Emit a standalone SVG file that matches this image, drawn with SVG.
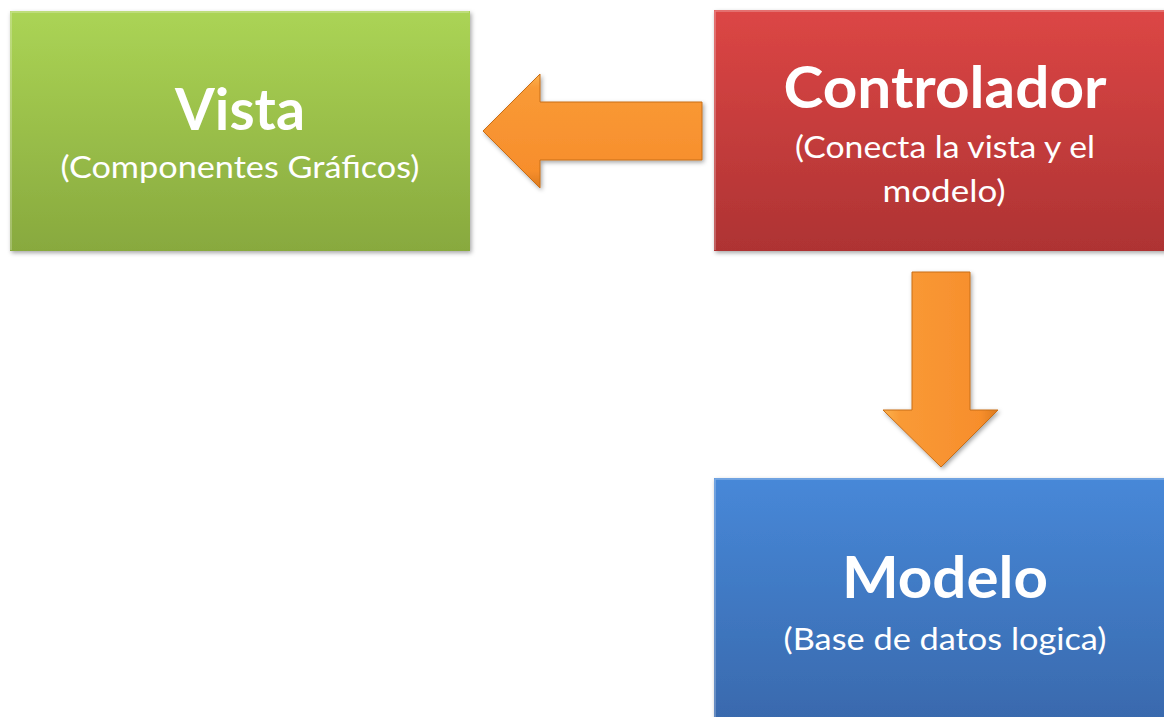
<svg xmlns="http://www.w3.org/2000/svg" width="1164" height="717" viewBox="0 0 1164 717">
  <defs>
    <linearGradient id="gGreen" x1="0" y1="0" x2="0" y2="1">
      <stop offset="0" stop-color="#ABD455"/>
      <stop offset="1" stop-color="#88A93E"/>
    </linearGradient>
    <linearGradient id="gRed" x1="0" y1="0" x2="0" y2="1">
      <stop offset="0" stop-color="#DC4645"/>
      <stop offset="1" stop-color="#AE3333"/>
    </linearGradient>
    <linearGradient id="gBlue" x1="0" y1="0" x2="0" y2="1">
      <stop offset="0" stop-color="#4788D8"/>
      <stop offset="1" stop-color="#3867AA"/>
    </linearGradient>
    <linearGradient id="gArrowH" x1="0" y1="0" x2="0" y2="1">
      <stop offset="0" stop-color="#FCB24E"/>
      <stop offset="0.12" stop-color="#F99A36"/>
      <stop offset="0.85" stop-color="#F78E2C"/>
      <stop offset="1" stop-color="#DB7A1E"/>
    </linearGradient>
    <linearGradient id="gArrowV" x1="0" y1="0" x2="1" y2="0">
      <stop offset="0" stop-color="#FCB24E"/>
      <stop offset="0.15" stop-color="#F99A36"/>
      <stop offset="0.85" stop-color="#F78E2C"/>
      <stop offset="1" stop-color="#DB7A1E"/>
    </linearGradient>
    <filter id="shadow" x="-10%" y="-10%" width="120%" height="120%">
      <feDropShadow dx="1.5" dy="2" stdDeviation="2" flood-color="#000" flood-opacity="0.35"/>
    </filter>
  </defs>
  <style>
    .box { filter: url(#shadow); }
    .title { font-family: Lato, "Liberation Sans", sans-serif; font-weight: bold; font-size: 58px; fill: #FFFFFF; text-anchor: middle; }
    .sub { font-family: Lato, "Liberation Sans", sans-serif; font-size: 30px; fill: #FFFFFF; text-anchor: middle; }
    .arrow { filter: url(#shadow); stroke: #C86E18; stroke-width: 1; stroke-linejoin: miter; }
    .hl { fill: none; stroke: #FFFFFF; stroke-opacity: 0.3; stroke-width: 1.5; }
  </style>

  <g id="vista">
    <rect class="box" x="10" y="11" width="460" height="240" fill="url(#gGreen)"/>
    <path class="hl" d="M11 250 L11 12 L469 12"/>
    <text class="title" x="240" y="130" textLength="130" lengthAdjust="spacingAndGlyphs">Vista</text>
    <text class="sub" x="240" y="178" textLength="359" lengthAdjust="spacingAndGlyphs">(Componentes Gráficos)</text>
  </g>

  <g id="controlador">
    <rect class="box" x="714" y="10" width="460" height="241" fill="url(#gRed)"/>
    <path class="hl" d="M715 250 L715 11 L1164 11"/>
    <text class="title" x="945" y="108" textLength="323" lengthAdjust="spacingAndGlyphs">Controlador</text>
    <text class="sub" x="945" y="158" textLength="300" lengthAdjust="spacingAndGlyphs">(Conecta la vista y el</text>
    <text class="sub" x="944" y="202" textLength="123" lengthAdjust="spacingAndGlyphs">modelo)</text>
  </g>

  <g id="modelo">
    <rect class="box" x="714" y="478" width="460" height="260" fill="url(#gBlue)"/>
    <path class="hl" d="M715 717 L715 479 L1164 479"/>
    <text class="title" x="945" y="598" textLength="206" lengthAdjust="spacingAndGlyphs">Modelo</text>
    <text class="sub" x="945" y="650" textLength="323" lengthAdjust="spacingAndGlyphs">(Base de datos logica)</text>
  </g>

  <g id="connectors">
    <polygon class="arrow" points="483,131 540,74 540,102 702,102 702,160 540,160 540,188" fill="url(#gArrowH)"/>
    <polygon class="arrow" points="912,272 970,272 970,410 998,410 941,467 883,410 912,410" fill="url(#gArrowV)"/>
  </g>
</svg>
